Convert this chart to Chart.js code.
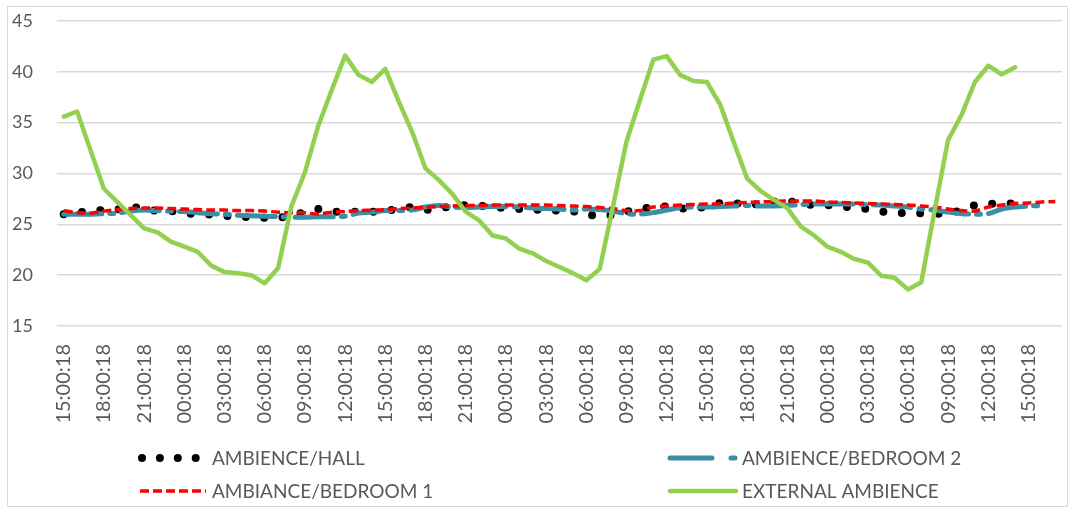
<!DOCTYPE html>
<html>
<head>
<meta charset="utf-8">
<script src="https://cdn.jsdelivr.net/npm/chart.js@4/dist/chart.umd.min.js"></script>
<style>
  html, body { margin: 0; padding: 0; background: #fff; }
  #wrap { width: 1068px; height: 508px; position: relative; }
</style>
</head>
<body>
<div id="wrap"><canvas id="chart"></canvas></div>
<script>
// hourly readings, 15:00:18 on day 1 to 17:00:18 on day 4
const timeLabels = [
  '15:00:18','16:00:18','17:00:18','18:00:18','19:00:18','20:00:18','21:00:18','22:00:18','23:00:18',
  '00:00:18','01:00:18','02:00:18','03:00:18','04:00:18','05:00:18','06:00:18','07:00:18','08:00:18',
  '09:00:18','10:00:18','11:00:18','12:00:18','13:00:18','14:00:18','15:00:18','16:00:18','17:00:18',
  '18:00:18','19:00:18','20:00:18','21:00:18','22:00:18','23:00:18',
  '00:00:18','01:00:18','02:00:18','03:00:18','04:00:18','05:00:18','06:00:18','07:00:18','08:00:18',
  '09:00:18','10:00:18','11:00:18','12:00:18','13:00:18','14:00:18','15:00:18','16:00:18','17:00:18',
  '18:00:18','19:00:18','20:00:18','21:00:18','22:00:18','23:00:18',
  '00:00:18','01:00:18','02:00:18','03:00:18','04:00:18','05:00:18','06:00:18','07:00:18','08:00:18',
  '09:00:18','10:00:18','11:00:18','12:00:18','13:00:18','14:00:18','15:00:18','16:00:18','17:00:18'
];

const hallTemps = [
  26.0, 26.15, 26.3, 26.4, 26.45, 26.85, 26.4, 26.35, 26.3, 26.1,
  26.0, 25.95, 25.85, 25.75, 25.7, 25.65, 25.6, 25.9, 26.2, 26.5,
  26.25, 26.25, 26.25, 26.25, 26.25, 26.6, 26.7, 26.4, 26.55, 26.8,
  26.9, 26.85, 26.7, 26.6, 26.5, 26.45, 26.4, 26.35, 26.3, 25.9,
  25.9, 25.9, 26.25, 26.5, 26.7, 26.75, 26.55, 26.6, 26.7, 27.1,
  27.1, 26.9, 27.0, 27.25, 27.35, 27.0, 26.9, 26.9, 26.75, 26.65,
  26.5, 26.25, 26.15, 26.1, 26.1, 26.05, 26.0, 26.4, 26.9, 27.0,
  27.05, 27.05
];

const bedroom2Temps = [
  26.0, 26.0, 26.0, 26.05, 26.1, 26.3, 26.4, 26.35, 26.3, 26.25,
  26.15, 26.05, 26.0, 25.9, 25.85, 25.8, 25.75, 25.7, 25.7, 25.75,
  25.75, 25.8, 26.1, 26.2, 26.35, 26.35, 26.4, 26.7, 26.85, 26.7,
  26.65, 26.7, 26.75, 26.75, 26.7, 26.6, 26.55, 26.5, 26.4, 26.5,
  26.45, 26.3, 26.05, 26.0, 26.15, 26.4, 26.65, 26.7, 26.7, 26.75,
  26.8, 26.85, 26.8, 26.8, 26.85, 26.95, 27.0, 27.0, 27.0, 27.0,
  26.95, 26.9, 26.8, 26.7, 26.5, 26.4, 26.2, 26.05, 26.0, 26.05,
  26.5, 26.7, 26.8, 26.85
];

const bedroom1Temps = [
  26.35, 26.15, 26.1, 26.3, 26.45, 26.55, 26.6, 26.6, 26.55, 26.5,
  26.45, 26.4, 26.4, 26.35, 26.35, 26.3, 26.2, 26.15, 26.15, 26.0,
  26.2, 26.25, 26.35, 26.4, 26.45, 26.55, 26.6, 26.7, 26.75, 26.8,
  26.85, 26.85, 26.9, 26.9, 26.9, 26.9, 26.9, 26.85, 26.8, 26.75,
  26.65, 26.55, 26.35, 26.35, 26.7, 26.8, 26.9, 26.95, 27.0, 27.0,
  27.1, 27.15, 27.2, 27.25, 27.3, 27.3, 27.3, 27.2, 27.15, 27.1,
  27.05, 27.0, 26.95, 26.9, 26.8, 26.7, 26.5, 26.35, 26.3, 26.7,
  26.9, 27.05, 27.1, 27.2, 27.25
];

const externalTemps = [
  35.6, 36.1, 32.3, 28.5, 27.2, 25.9, 24.6, 24.2, 23.3, 22.8,
  22.3, 20.95, 20.3, 20.2, 20.0, 19.2, 20.7, 26.8, 30.1, 34.7,
  38.2, 41.6, 39.7, 39.0, 40.3, 37.1, 34.1, 30.5, 29.35, 28.0,
  26.25, 25.4, 23.9, 23.6, 22.6, 22.15, 21.4, 20.8, 20.2, 19.5,
  20.6, 26.8, 33.15, 37.2, 41.2, 41.55, 39.7, 39.1, 39.0, 36.75,
  33.1, 29.5, 28.3, 27.4, 26.6, 24.8, 23.9, 22.8, 22.3, 21.6,
  21.25, 19.95, 19.75, 18.6, 19.3, 26.4, 33.3, 35.75, 39.0, 40.6,
  39.75, 40.45
];

const yTicks = { min: 15, max: 45, step: 5 };
const textColor = '#595959';

// legend drawn by hand so the two columns line up like the original
const legendLayout = [
  { ds: 0, x: 140, y: 458, dash: [0, 17.9] },
  { ds: 1, x: 670, y: 458, dash: [42, 19, 4, 100] },
  { ds: 2, x: 140, y: 491, dash: [9, 4] },
  { ds: 3, x: 670, y: 491, dash: [] }
];

const frameAndLegend = {
  id: 'frameAndLegend',
  beforeDraw(chart) {
    const ctx = chart.ctx;
    ctx.save();
    ctx.fillStyle = '#fff';
    ctx.fillRect(0, 0, chart.width, chart.height);
    ctx.strokeStyle = '#d9d9d9';
    ctx.lineWidth = 1;
    ctx.strokeRect(7.5, 6.5, 1060, 500);
    ctx.restore();
  },
  afterDraw(chart) {
    const ctx = chart.ctx;
    legendLayout.forEach(item => {
      const ds = chart.data.datasets[item.ds];
      ctx.save();
      ctx.strokeStyle = ds.borderColor;
      ctx.lineWidth = item.ds === 0 ? 8 : ds.borderWidth;
      ctx.lineCap = ds.borderCapStyle || 'butt';
      ctx.setLineDash(item.dash);
      ctx.beginPath();
      ctx.moveTo(item.x + (item.ds === 0 ? 2 : 0), item.y);
      ctx.lineTo(item.x + 66, item.y);
      ctx.stroke();
      ctx.setLineDash([]);
      ctx.fillStyle = textColor;
      ctx.font = '19px Lato';
      ctx.textBaseline = 'middle';
      ctx.fillText(ds.label, item.x + 72, item.y + 1);
      ctx.restore();
    });
  }
};

const ctx = document.getElementById('chart').getContext('2d');
new Chart(ctx, {
  type: 'line',
  data: {
    labels: timeLabels,
    datasets: [
      {
        label: 'AMBIENCE/HALL',
        data: hallTemps,
        borderColor: '#000000',
        borderWidth: 8,
        borderDash: [0, 18.4],
        borderCapStyle: 'round',
        pointRadius: 0,
        tension: 0,
        order: 4
      },
      {
        label: 'AMBIENCE/BEDROOM 2',
        data: bedroom2Temps,
        borderColor: '#3a8ea6',
        borderWidth: 5,
        borderDash: [38, 8, 4, 8],
        borderCapStyle: 'round',
        pointRadius: 0,
        tension: 0.3,
        order: 3
      },
      {
        label: 'AMBIANCE/BEDROOM 1',
        data: bedroom1Temps,
        borderColor: '#ff0000',
        borderWidth: 3.5,
        borderDash: [9, 4],
        pointRadius: 0,
        tension: 0.3,
        order: 2
      },
      {
        label: 'EXTERNAL AMBIENCE',
        data: externalTemps,
        borderColor: '#92d050',
        borderWidth: 4.5,
        borderJoinStyle: 'round',
        borderCapStyle: 'round',
        pointRadius: 0,
        tension: 0,
        order: 1
      }
    ]
  },
  options: {
    responsive: true,
    maintainAspectRatio: false,
    animation: false,
    layout: { padding: { left: 0, right: 6, top: 21, bottom: 0 } },
    plugins: {
      legend: { display: false },
      tooltip: { enabled: false }
    },
    scales: {
      x: {
        offset: true,
        grid: { display: false, drawTicks: false },
        border: { display: false },
        ticks: {
          autoSkip: false,
          minRotation: 90,
          maxRotation: 90,
          padding: 18,
          color: textColor,
          font: { family: 'Lato', size: 20 },
          callback: function (value, index) {
            return index % 3 === 0 ? this.getLabelForValue(value) : '';
          }
        },
        afterFit(scale) {
          scale.height = 182;
          scale.paddingLeft = 0;
          scale.paddingRight = 0;
        }
      },
      y: {
        min: yTicks.min,
        max: yTicks.max,
        grid: { color: '#d9d9d9', lineWidth: 1.5, drawTicks: false },
        border: { display: false },
        ticks: {
          stepSize: yTicks.step,
          padding: 24,
          color: textColor,
          font: { family: 'Lato', size: 18 }
        },
        afterFit(scale) {
          scale.width = 57;
          scale.paddingTop = 0;
          scale.paddingBottom = 0;
        }
      }
    }
  },
  plugins: [frameAndLegend]
});
</script>
</body>
</html>
